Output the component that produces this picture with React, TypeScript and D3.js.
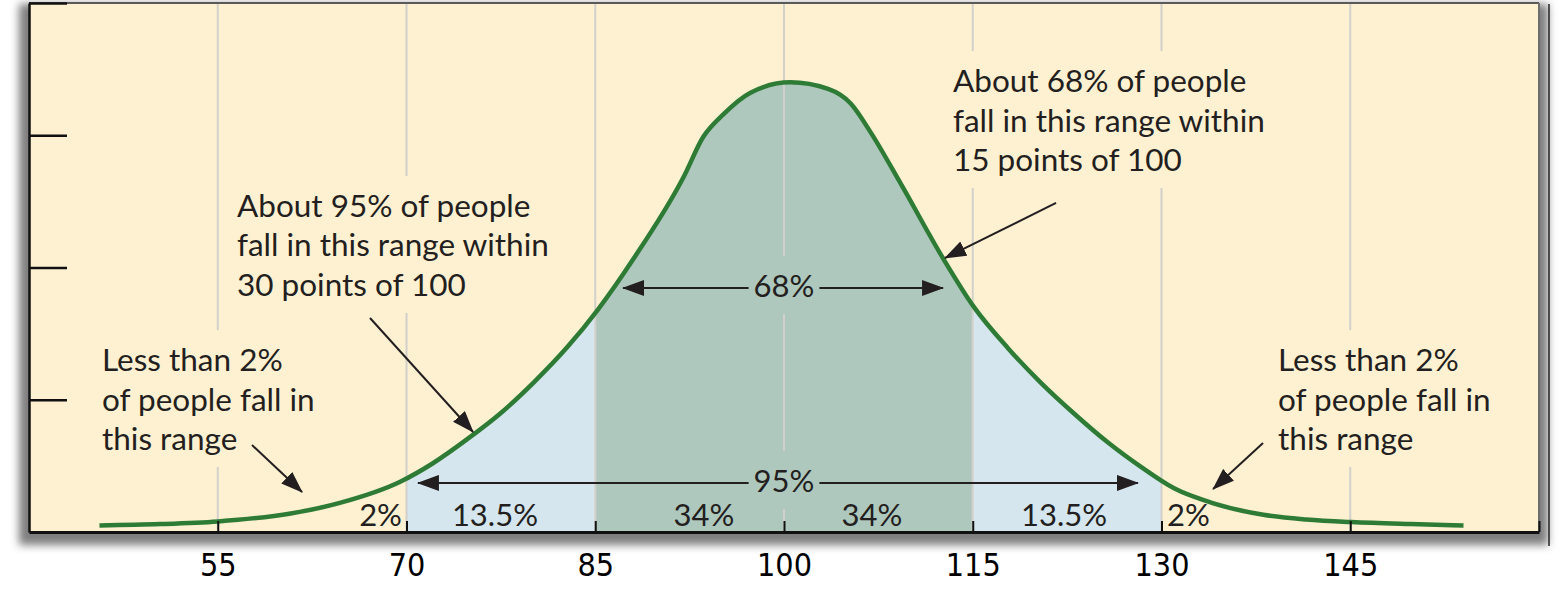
import * as d3 from "d3";
import { useEffect, useRef } from "react";

// curve: IQ score -> height (in tick units)
const iqValues = [
  45.6, 50.4, 55.0, 60.8, 64.7, 69.5, 72.1, 74.8, 77.5, 80.1, 82.8, 85.2,
  88.0, 92.0, 93.6, 95.2, 97.3, 100.5, 103.5, 105.3, 106.9, 109.3,
  112.7, 115.1, 117.8, 120.4, 123.0, 125.7, 128.4, 131.0, 134.2, 138.1,
  141.5, 145.1, 149.8, 154.0,
];
const curveHeights = [
  0.05, 0.06, 0.08, 0.14, 0.22, 0.38, 0.52, 0.7, 0.9, 1.13, 1.4, 1.68, 2.06,
  2.68, 2.99, 3.16, 3.32, 3.4, 3.35, 3.24, 3.02, 2.63, 2.06, 1.7, 1.39,
  1.13, 0.9, 0.68, 0.49, 0.33, 0.215, 0.13, 0.095, 0.075, 0.06, 0.05,
];

const axisTicks = [55, 70, 85, 100, 115, 130, 145];
const heightTicks = [1, 2, 3, 4];
const bandLabels = ["2%", "13.5%", "34%", "34%", "13.5%", "2%"];
const note95 = ["About 95% of people", "fall in this range within", "30 points of 100"];
const note68 = ["About 68% of people", "fall in this range within", "15 points of 100"];
const noteTail = ["Less than 2%", "of people fall in", "this range"];

const W = 1566;
const H = 594;
const FONT = "Lato, 'Open Sans', sans-serif";
const INK = "#231f20";

export default function App() {
  const ref = useRef<SVGSVGElement | null>(null);

  useEffect(() => {
    if (!ref.current) return;
    const svg = d3.select(ref.current);
    svg.selectAll("*").remove();

    const x = d3.scaleLinear().domain([40, 160]).range([29, 1539]);
    const y = d3.scaleLinear().domain([0, 4]).range([532, 3]);
    const pts = iqValues.map((v, i) => [v, curveHeights[i]] as [number, number]);

    const defs = svg.append("defs");
    defs
      .append("filter")
      .attr("id", "shadow")
      .attr("x", "-5%")
      .attr("y", "-5%")
      .attr("width", "110%")
      .attr("height", "115%")
      .append("feGaussianBlur")
      .attr("stdDeviation", 4);

    const clip = (id: string, a: number, b: number) =>
      defs
        .append("clipPath")
        .attr("id", id)
        .append("rect")
        .attr("x", x(a))
        .attr("y", 0)
        .attr("width", x(b) - x(a))
        .attr("height", H);
    clip("clipLight", 70, 130);
    clip("clipDark", 85, 115);

    defs
      .append("marker")
      .attr("id", "head")
      .attr("viewBox", "0 0 22 16")
      .attr("markerWidth", 22)
      .attr("markerHeight", 16)
      .attr("refX", 21)
      .attr("refY", 8)
      .attr("markerUnits", "userSpaceOnUse")
      .attr("orient", "auto-start-reverse")
      .append("path")
      .attr("d", "M0,0L22,8L0,16Z")
      .attr("fill", INK);

    const mask = defs
      .append("mask")
      .attr("id", "gridMask")
      .attr("maskUnits", "userSpaceOnUse")
      .attr("x", 0)
      .attr("y", 0)
      .attr("width", W)
      .attr("height", H);
    mask.append("rect").attr("width", W).attr("height", H).attr("fill", "#fff");

    // frame with drop shadow
    svg
      .append("rect")
      .attr("x", 19)
      .attr("y", 4)
      .attr("width", 1529)
      .attr("height", 541)
      .attr("fill", "#7e7e7e")
      .attr("filter", "url(#shadow)");
    svg
      .append("line")
      .attr("x1", 1549)
      .attr("x2", 1549)
      .attr("y1", 4)
      .attr("y2", 546)
      .attr("stroke", "#222")
      .attr("stroke-width", 1.5);
    svg
      .append("rect")
      .attr("x", x(40))
      .attr("y", y(4))
      .attr("width", x(160) - x(40))
      .attr("height", y(0) - y(4))
      .attr("fill", "#fef1d2");

    const area = d3
      .area<[number, number]>()
      .x((d) => x(d[0]))
      .y0(y(0))
      .y1((d) => y(d[1]))
      .curve(d3.curveMonotoneX);

    svg
      .append("path")
      .datum(pts)
      .attr("d", area)
      .attr("fill", "#d5e6ee")
      .attr("clip-path", "url(#clipLight)");
    svg
      .append("path")
      .datum(pts)
      .attr("d", area)
      .attr("fill", "#afc8be")
      .attr("clip-path", "url(#clipDark)");

    // vertical grid
    svg
      .append("g")
      .attr("mask", "url(#gridMask)")
      .selectAll("line")
      .data(axisTicks)
      .join("line")
      .attr("x1", (d) => x(d))
      .attr("x2", (d) => x(d))
      .attr("y1", y(4))
      .attr("y2", y(0))
      .attr("stroke", "#d2d0ca")
      .attr("stroke-width", 2);

    const line = d3
      .line<[number, number]>()
      .x((d) => x(d[0]))
      .y((d) => y(d[1]))
      .curve(d3.curveMonotoneX);
    svg
      .append("path")
      .datum(pts)
      .attr("d", line)
      .attr("fill", "none")
      .attr("stroke", "#2e7b36")
      .attr("stroke-width", 4.5);

    // top and right border
    svg
      .append("line")
      .attr("x1", x(40))
      .attr("x2", x(160))
      .attr("y1", y(4))
      .attr("y2", y(4))
      .attr("stroke", "#5a5a5a")
      .attr("stroke-width", 2);
    svg
      .append("line")
      .attr("x1", x(160))
      .attr("x2", x(160))
      .attr("y1", y(4))
      .attr("y2", y(0))
      .attr("stroke", "#6e6e6e")
      .attr("stroke-width", 2);

    // left axis: the border with inward ticks
    const yAxis = svg
      .append("g")
      .attr("transform", `translate(${x(40)},0)`)
      .call(
        d3
          .axisRight(y)
          .tickValues(heightTicks)
          .tickSize(38)
          .tickSizeOuter(0)
          .tickFormat(() => "")
      );
    yAxis.selectAll("path, line").attr("stroke", "#111").attr("stroke-width", 2.5);

    // bottom axis with small ticks pointing up
    const xAxis = svg
      .append("g")
      .attr("transform", `translate(0,${y(0)})`)
      .call(
        d3
          .axisBottom(x)
          .tickValues([...axisTicks, 160])
          .tickSize(-11)
          .tickSizeOuter(0)
          .tickPadding(21)
          .tickFormat((d) => (d === 160 ? "" : String(d)))
      );
    xAxis.select(".domain").attr("stroke", "#111").attr("stroke-width", 3);
    xAxis.selectAll(".tick line").attr("stroke", "#111").attr("stroke-width", 2);
    xAxis
      .selectAll("text")
      .attr("font-family", "'DejaVu Sans Condensed', 'DejaVu Sans', sans-serif")
      .attr("font-size", 32)
      .attr("fill", "#000");

    // annotations
    const masked: SVGGraphicsElement[] = [];
    const note = (lines: string[], vx: number, vy: number) => {
      const t = svg
        .append("text")
        .attr("x", x(vx))
        .attr("y", y(vy))
        .attr("font-family", FONT)
        .attr("font-size", 31.5)
        .attr("fill", INK);
      t.selectAll("tspan")
        .data(lines)
        .join("tspan")
        .attr("x", x(vx))
        .attr("dy", (_, i) => (i === 0 ? 0 : 39.5))
        .text((d) => d);
      masked.push(t.node() as SVGGraphicsElement);
      return t;
    };
    note(note95, 56.53, 2.382);
    note(note68, 113.43, 3.327);
    note(noteTail, 45.8, 1.217);
    note(noteTail, 139.26, 1.217);

    const arrow = (a: [number, number], b: [number, number]) =>
      svg
        .append("line")
        .attr("x1", x(a[0]))
        .attr("y1", y(a[1]))
        .attr("x2", x(b[0]))
        .attr("y2", y(b[1]))
        .attr("stroke", INK)
        .attr("stroke-width", 2)
        .attr("marker-end", "url(#head)");
    arrow([67.1, 1.618], [75.29, 0.756]);
    arrow([57.72, 0.658], [61.7, 0.302]);
    arrow([121.62, 2.488], [112.8, 2.072]);
    arrow([138.07, 0.673], [134.1, 0.325]);

    const span = (label: string, vy: number, ty: number, from: number, to: number) => {
      const t = svg
        .append("text")
        .attr("x", x(100))
        .attr("y", y(ty))
        .attr("text-anchor", "middle")
        .attr("font-family", FONT)
        .attr("font-size", 31)
        .attr("fill", INK)
        .text(label);
      const node = t.node() as SVGGraphicsElement;
      masked.push(node);
      const bb = node.getBBox();
      const seg = (x1: number, x2: number, start: boolean) =>
        svg
          .append("line")
          .attr("x1", x1)
          .attr("x2", x2)
          .attr("y1", y(vy))
          .attr("y2", y(vy))
          .attr("stroke", INK)
          .attr("stroke-width", 2)
          .attr(start ? "marker-start" : "marker-end", "url(#head)");
      seg(x(from), bb.x - 5, true);
      seg(bb.x + bb.width + 5, x(to), false);
    };
    span("68%", 1.845, 1.777, 87.21, 112.64);
    span("95%", 0.371, 0.302, 70.91, 128.13);

    const bandAt = [69.64, 77.03, 93.64, 106.99, 122.25, 130.44];
    const bandAnchor = ["end", "middle", "middle", "middle", "middle", "start"];
    svg
      .append("g")
      .selectAll("text")
      .data(bandLabels)
      .join("text")
      .attr("x", (_, i) => x(bandAt[i]))
      .attr("y", y(0.045))
      .attr("text-anchor", (_, i) => bandAnchor[i])
      .attr("font-family", FONT)
      .attr("font-size", 31)
      .attr("fill", INK)
      .text((d) => d);

    // cut the grid lines behind the text blocks
    masked.forEach((n) => {
      const bb = n.getBBox();
      mask
        .append("rect")
        .attr("x", bb.x - 10)
        .attr("y", bb.y - 10)
        .attr("width", bb.width + 20)
        .attr("height", bb.height + 20)
        .attr("fill", "#000");
    });
  }, []);

  return (
    <svg
      ref={ref}
      width={W}
      height={H}
      viewBox={`0 0 ${W} ${H}`}
      style={{ position: "absolute", left: 0, top: 0, background: "#fff" }}
    />
  );
}
